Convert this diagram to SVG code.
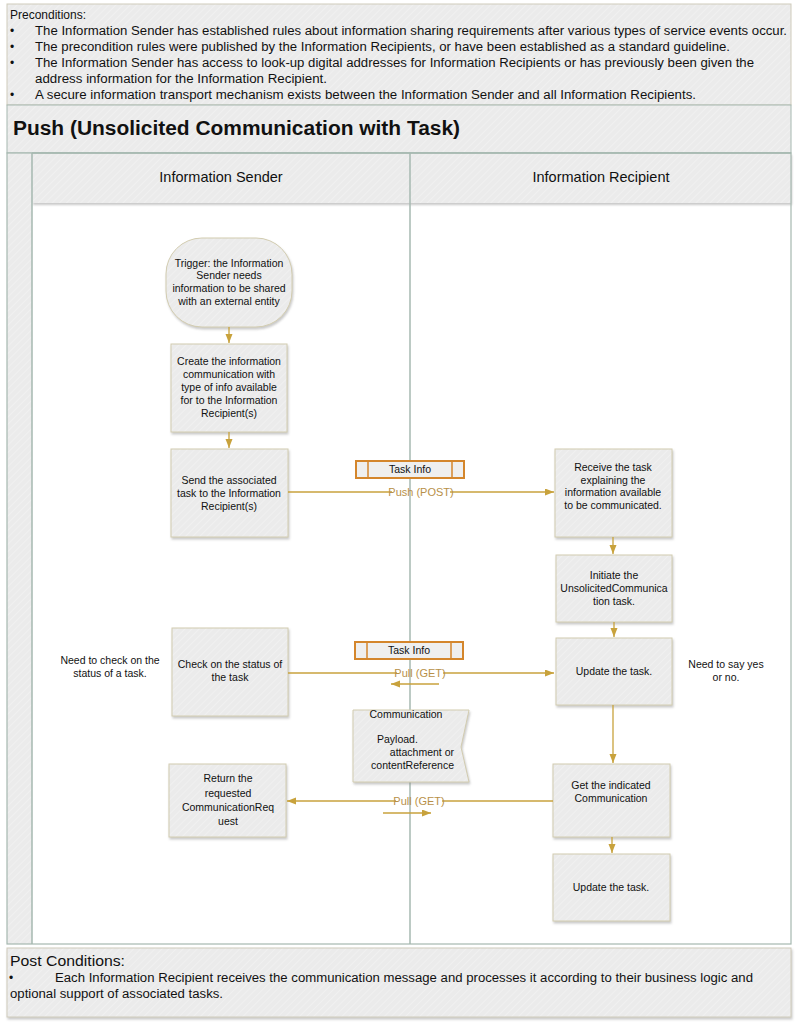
<svg xmlns="http://www.w3.org/2000/svg" width="798" height="1024" viewBox="0 0 798 1024">
<defs>
<pattern id="hatch" patternUnits="userSpaceOnUse" width="5" height="5" patternTransform="rotate(45)">
<rect width="5" height="5" fill="#ebebeb"/>
<line x1="0" y1="0" x2="0" y2="5" stroke="#f2f2f2" stroke-width="1.5"/>
</pattern>
<filter id="sh" x="-10%" y="-10%" width="125%" height="130%">
<feDropShadow dx="1" dy="2" stdDeviation="1.2" flood-color="#888" flood-opacity="0.45"/>
</filter>
<marker id="ah" markerUnits="userSpaceOnUse" markerWidth="10" markerHeight="8" refX="9" refY="3.5" orient="auto">
<path d="M0,0 L9,3.5 L0,7 z" fill="#c8a23c"/>
</marker>
<style>
.t{font-family:"Liberation Sans",Arial,sans-serif;fill:#111;}
.n{font-size:10.5px;text-anchor:middle;}
.box{fill:url(#hatch);stroke:#d2ccb0;stroke-width:1;filter:url(#sh);}
.pan{fill:url(#hatch);stroke:#cfcbbb;stroke-width:1;}
.cn{stroke:#c8a23c;stroke-width:1.3;fill:none;}
.lbl{font-family:"Liberation Sans",Arial,sans-serif;font-size:11px;fill:#b89048;text-anchor:middle;}
.ti{fill:#efefef;stroke:#d4862c;stroke-width:2;}
.lane{stroke:#a6b8b0;stroke-width:1.5;fill:none;}
</style>
</defs>
<rect width="798" height="1024" fill="#ffffff"/>

<g id="preconditions">
<rect class="pan" x="7" y="4" width="784" height="101"/>
<text class="t" x="10" y="19" font-size="12">Preconditions:</text>
<g font-size="12">
<text class="t" x="10" y="35">•</text>
<text class="t" x="35" y="35" textLength="752" lengthAdjust="spacingAndGlyphs">The Information Sender has established rules about information sharing requirements after various types of service events occur.</text>
<text class="t" x="10" y="51">•</text>
<text class="t" x="35" y="51" textLength="695" lengthAdjust="spacingAndGlyphs">The precondition rules were published by the Information Recipients, or have been established as a standard guideline.</text>
<text class="t" x="10" y="67">•</text>
<text class="t" x="35" y="67" textLength="719" lengthAdjust="spacingAndGlyphs">The Information Sender has access to look-up digital addresses for Information Recipients or has previously been given the</text>
<text class="t" x="35" y="83" textLength="292" lengthAdjust="spacingAndGlyphs">address information for the Information Recipient.</text>
<text class="t" x="10" y="99">•</text>
<text class="t" x="35" y="99" textLength="661" lengthAdjust="spacingAndGlyphs">A secure information transport mechanism exists between the Information Sender and all Information Recipients.</text>
</g>
</g>

<g id="pool">
<rect x="7" y="105" width="784" height="48" fill="url(#hatch)" stroke="#a6b8b0" stroke-width="1"/>
<text class="t" x="13" y="135" font-size="20" font-weight="bold" textLength="447" lengthAdjust="spacingAndGlyphs">Push (Unsolicited Communication with Task)</text>
<rect x="7" y="153" width="25" height="791" fill="url(#hatch)"/>
<rect x="32" y="203" width="759" height="741" fill="#ffffff"/>
<rect x="32" y="153" width="759" height="50" fill="url(#hatch)" filter="url(#sh)"/>
<text class="t" x="221" y="182" font-size="14.5" text-anchor="middle">Information Sender</text>
<text class="t" x="601" y="182" font-size="14.5" text-anchor="middle">Information Recipient</text>
<line class="lane" x1="32" y1="153" x2="32" y2="944"/>
<line class="lane" x1="410" y1="153" x2="410" y2="944"/>
<line class="lane" x1="32" y1="153" x2="791" y2="153"/>
<rect x="7" y="153" width="784" height="791" fill="none" stroke="#a6b8b0" stroke-width="1.2"/>
</g>

<g id="trigger">
<rect class="box" x="166" y="238" width="126" height="89" rx="36" ry="36"/>
<text class="t n" x="229" y="267">Trigger: the Information</text>
<text class="t n" x="229" y="279">Sender needs</text>
<text class="t n" x="229" y="292">information to be shared</text>
<text class="t n" x="229" y="305">with an external entity</text>
</g>

<g id="create">
<rect class="box" x="171" y="344" width="116" height="88"/>
<text class="t n" x="229" y="365">Create the information</text>
<text class="t n" x="229" y="378">communication with</text>
<text class="t n" x="229" y="391">type of info available</text>
<text class="t n" x="229" y="404">for to the Information</text>
<text class="t n" x="229" y="417">Recipient(s)</text>
</g>

<g id="send">
<rect class="box" x="171" y="449" width="117" height="88"/>
<text class="t n" x="229" y="484">Send the associated</text>
<text class="t n" x="229" y="497">task to the Information</text>
<text class="t n" x="229" y="510">Recipient(s)</text>
</g>

<g id="check">
<rect class="box" x="172" y="628" width="116" height="88"/>
<text class="t n" x="230" y="668">Check on the status of</text>
<text class="t n" x="230" y="681">the task</text>
</g>

<g id="note-check">
<text class="t n" x="110" y="664">Need to check on the</text>
<text class="t n" x="110" y="677">status of a task.</text>
</g>

<g id="return">
<rect class="box" x="169" y="764" width="117" height="73"/>
<text class="t n" x="228" y="782">Return the</text>
<text class="t n" x="228" y="797">requested</text>
<text class="t n" x="228" y="811">CommunicationReq</text>
<text class="t n" x="228" y="825">uest</text>
</g>

<g id="receive">
<rect class="box" x="555" y="449" width="117" height="88"/>
<text class="t n" x="613" y="471">Receive the task</text>
<text class="t n" x="613" y="484">explaining the</text>
<text class="t n" x="613" y="496">information available</text>
<text class="t n" x="613" y="509">to be communicated.</text>
</g>

<g id="initiate">
<rect class="box" x="556" y="555" width="116" height="67"/>
<text class="t n" x="614" y="579">Initiate the</text>
<text class="t n" x="614" y="592">UnsolicitedCommunica</text>
<text class="t n" x="614" y="605">tion task.</text>
</g>

<g id="update1">
<rect class="box" x="556" y="638" width="116" height="67"/>
<text class="t n" x="614" y="675">Update the task.</text>
</g>

<g id="note-yesno">
<text class="t n" x="726" y="668">Need to say yes</text>
<text class="t n" x="726" y="681">or no.</text>
</g>

<g id="get">
<rect class="box" x="553" y="764" width="117" height="73"/>
<text class="t n" x="611" y="789">Get the indicated</text>
<text class="t n" x="611" y="802">Communication</text>
</g>

<g id="update2">
<rect class="box" x="553" y="854" width="117" height="67"/>
<text class="t n" x="611" y="891">Update the task.</text>
</g>

<g id="taskinfo1">
<rect class="ti" x="356" y="461" width="108" height="17"/>
<line x1="368" y1="461" x2="368" y2="478" stroke="#d4862c" stroke-width="1.5"/>
<line x1="452" y1="461" x2="452" y2="478" stroke="#d4862c" stroke-width="1.5"/>
<text class="t n" x="410" y="473">Task Info</text>
</g>

<g id="taskinfo2">
<rect class="ti" x="355" y="642" width="108" height="17"/>
<line x1="367" y1="642" x2="367" y2="659" stroke="#d4862c" stroke-width="1.5"/>
<line x1="451" y1="642" x2="451" y2="659" stroke="#d4862c" stroke-width="1.5"/>
<text class="t n" x="409" y="654">Task Info</text>
</g>

<g id="communication">
<path class="box" d="M353,710 L469,710 L461,747 L469,782 L353,782 Z"/>
<text class="t n" x="406" y="718">Communication</text>
<text class="t" x="377" y="743" font-size="10.5">Payload.</text>
<text class="t" x="454" y="756" font-size="10.5" text-anchor="end">attachment or</text>
<text class="t" x="454" y="769" font-size="10.5" text-anchor="end">contentReference</text>
</g>

<g id="connectors">
<line class="cn" x1="229" y1="327" x2="229" y2="343" marker-end="url(#ah)"/>
<line class="cn" x1="229" y1="432" x2="229" y2="448" marker-end="url(#ah)"/>
<line class="cn" x1="288" y1="492" x2="392" y2="492"/>
<line class="cn" x1="450" y1="492" x2="554" y2="492" marker-end="url(#ah)"/>
<text class="lbl" x="421" y="496">Push (POST)</text>
<line class="cn" x1="613" y1="537" x2="613" y2="554" marker-end="url(#ah)"/>
<line class="cn" x1="614" y1="622" x2="614" y2="637" marker-end="url(#ah)"/>
<line class="cn" x1="288" y1="673" x2="397" y2="673"/>
<line class="cn" x1="443" y1="673" x2="554" y2="673" marker-end="url(#ah)"/>
<text class="lbl" x="420" y="677">Pull (GET)</text>
<line class="cn" x1="439" y1="684" x2="391" y2="684" marker-end="url(#ah)"/>
<line class="cn" x1="613" y1="705" x2="613" y2="763" marker-end="url(#ah)"/>
<line class="cn" x1="553" y1="801" x2="442" y2="801"/>
<line class="cn" x1="396" y1="801" x2="287" y2="801" marker-end="url(#ah)"/>
<text class="lbl" x="419" y="805">Pull (GET)</text>
<line class="cn" x1="383" y1="813" x2="431" y2="813" marker-end="url(#ah)"/>
<line class="cn" x1="612" y1="837" x2="612" y2="853" marker-end="url(#ah)"/>
</g>

<g id="postconditions">
<rect class="pan" x="7" y="948" width="784" height="69" filter="url(#sh)"/>
<text class="t" x="10" y="966" font-size="14" textLength="115" lengthAdjust="spacingAndGlyphs">Post Conditions:</text>
<text class="t" x="9" y="982" font-size="12">•</text>
<text class="t" x="55" y="982" font-size="12" textLength="698" lengthAdjust="spacingAndGlyphs">Each Information Recipient receives the communication message and processes it according to their business logic and</text>
<text class="t" x="10" y="998" font-size="12" textLength="213" lengthAdjust="spacingAndGlyphs">optional support of associated tasks.</text>
</g>
</svg>
